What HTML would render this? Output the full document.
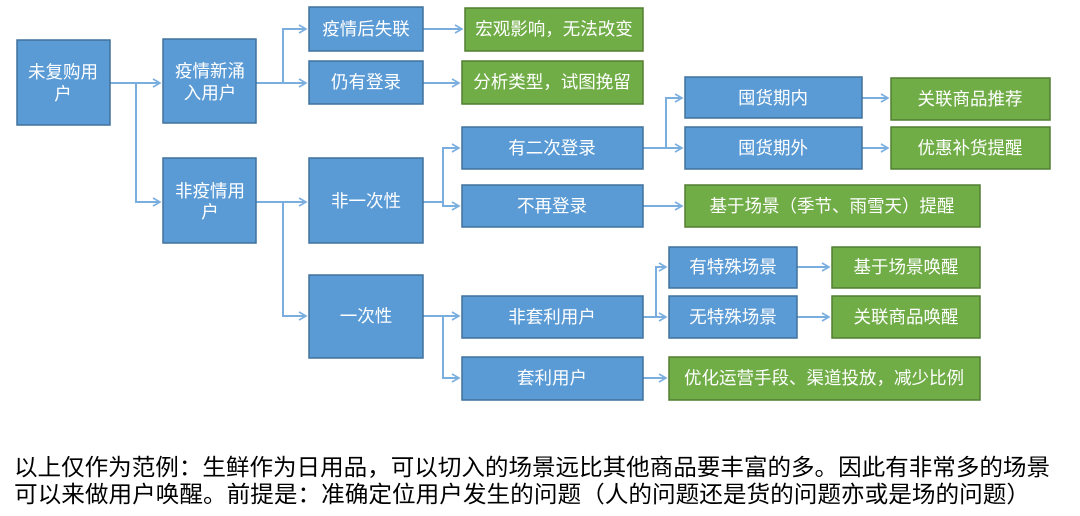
<!DOCTYPE html>
<html><head><meta charset="utf-8"><style>
body{margin:0;background:#fff;width:1080px;height:516px;overflow:hidden}
svg{display:block}
.b{fill:#5b9bd5;stroke:#41719c;stroke-width:1.5}
.g{fill:#70ad47;stroke:#507e32;stroke-width:1.5}
.t{fill:#fff;font-family:"Liberation Sans","Noto Sans CJK SC",sans-serif;font-size:17.5px;text-anchor:middle;dominant-baseline:central}
.l{stroke:#7aaedf;stroke-width:2;fill:none}
.a{stroke:#7aaedf;stroke-width:1.6;fill:none}
.p{font-family:"Liberation Sans","Noto Sans CJK SC",sans-serif;font-size:23px;fill:#000}
</style></head><body>
<svg width="1080" height="516" xmlns="http://www.w3.org/2000/svg">
<defs><marker id="m" markerWidth="10" markerHeight="10" refX="8" refY="5" orient="auto" markerUnits="userSpaceOnUse"><path d="M1,1 L8,5 L1,9" class="a"/></marker></defs>
<g class="l">
<path d="M110,83 H136 V83 H160" marker-end="url(#m)"/>
<path d="M136,83 V202 H160" marker-end="url(#m)"/>
<path d="M256,83 H283 V29 H306" marker-end="url(#m)"/>
<path d="M283,83 H306" marker-end="url(#m)"/>
<path d="M256,202 H283 V316 H306" marker-end="url(#m)"/>
<path d="M283,202 H306" marker-end="url(#m)"/>
<path d="M423,29 H462" marker-end="url(#m)"/>
<path d="M423,83 H459" marker-end="url(#m)"/>
<path d="M423,202 H443 V148 H459" marker-end="url(#m)"/>
<path d="M443,202 V206 H459" marker-end="url(#m)"/>
<path d="M423,316 H443 V316 H459" marker-end="url(#m)"/>
<path d="M443,316 V378 H459" marker-end="url(#m)"/>
<path d="M643,148 H666 V98 H682" marker-end="url(#m)"/>
<path d="M666,148 H682" marker-end="url(#m)"/>
<path d="M643,206 H682" marker-end="url(#m)"/>
<path d="M862,98 H888" marker-end="url(#m)"/>
<path d="M862,148 H888" marker-end="url(#m)"/>
<path d="M643,317 H656 V267 H666" marker-end="url(#m)"/>
<path d="M656,317 H666" marker-end="url(#m)"/>
<path d="M643,378 H666" marker-end="url(#m)"/>
<path d="M797,267 H829" marker-end="url(#m)"/>
<path d="M797,317 H829" marker-end="url(#m)"/>
</g>
<rect class="b" x="17" y="40" width="93" height="85"/>
<text class="t" x="63" y="72">未复购用</text><text class="t" x="63" y="94">户</text>
<rect class="b" x="163" y="39" width="93" height="84"/>
<text class="t" x="210" y="71">疫情新涌</text><text class="t" x="210" y="93">入用户</text>
<rect class="b" x="163" y="158" width="93" height="85"/>
<text class="t" x="210" y="191">非疫情用</text><text class="t" x="210" y="212">户</text>
<rect class="b" x="309" y="7" width="114" height="44"/><text class="t" x="366" y="29">疫情后失联</text>
<rect class="b" x="309" y="61" width="114" height="43"/><text class="t" x="366" y="82">仍有登录</text>
<rect class="b" x="309" y="158" width="114" height="85"/><text class="t" x="366" y="201">非一次性</text>
<rect class="b" x="309" y="275" width="114" height="83"/><text class="t" x="366" y="316">一次性</text>
<rect class="b" x="462" y="127" width="181" height="42"/><text class="t" x="552" y="148">有二次登录</text>
<rect class="b" x="462" y="185" width="181" height="42"/><text class="t" x="552" y="206">不再登录</text>
<rect class="b" x="462" y="296" width="181" height="42"/><text class="t" x="552" y="317">非套利用户</text>
<rect class="b" x="462" y="357" width="181" height="43"/><text class="t" x="552" y="378">套利用户</text>
<rect class="b" x="685" y="77" width="177" height="41"/><text class="t" x="773" y="98">囤货期内</text>
<rect class="b" x="685" y="127" width="177" height="42"/><text class="t" x="773" y="148">囤货期外</text>
<rect class="b" x="669" y="247" width="128" height="41"/><text class="t" x="733" y="267">有特殊场景</text>
<rect class="b" x="669" y="296" width="128" height="42"/><text class="t" x="733" y="317">无特殊场景</text>
<rect class="g" x="465" y="8" width="178" height="43"/><text class="t" x="554" y="29">宏观影响，无法改变</text>
<rect class="g" x="462" y="61" width="181" height="43"/><text class="t" x="552" y="82">分析类型，试图挽留</text>
<rect class="g" x="891" y="78" width="159" height="42"/><text class="t" x="970" y="99">关联商品推荐</text>
<rect class="g" x="891" y="127" width="159" height="42"/><text class="t" x="970" y="148">优惠补货提醒</text>
<rect class="g" x="685" y="185" width="295" height="42"/><text class="t" x="832" y="206">基于场景（季节、雨雪天）提醒</text>
<rect class="g" x="832" y="247" width="148" height="41"/><text class="t" x="906" y="267">基于场景唤醒</text>
<rect class="g" x="832" y="296" width="148" height="42"/><text class="t" x="906" y="317">关联商品唤醒</text>
<rect class="g" x="669" y="357" width="311" height="43"/><text class="t" x="824" y="378">优化运营手段、渠道投放，减少比例</text>
<text class="p" x="14" y="475" textLength="1036" lengthAdjust="spacingAndGlyphs">以上仅作为范例：生鲜作为日用品，可以切入的场景远比其他商品要丰富的多。因此有非常多的场景</text>
<text class="p" x="14" y="502" textLength="1016" lengthAdjust="spacingAndGlyphs">可以来做用户唤醒。前提是：准确定位用户发生的问题（人的问题还是货的问题亦或是场的问题）</text>
</svg>
</body></html>
